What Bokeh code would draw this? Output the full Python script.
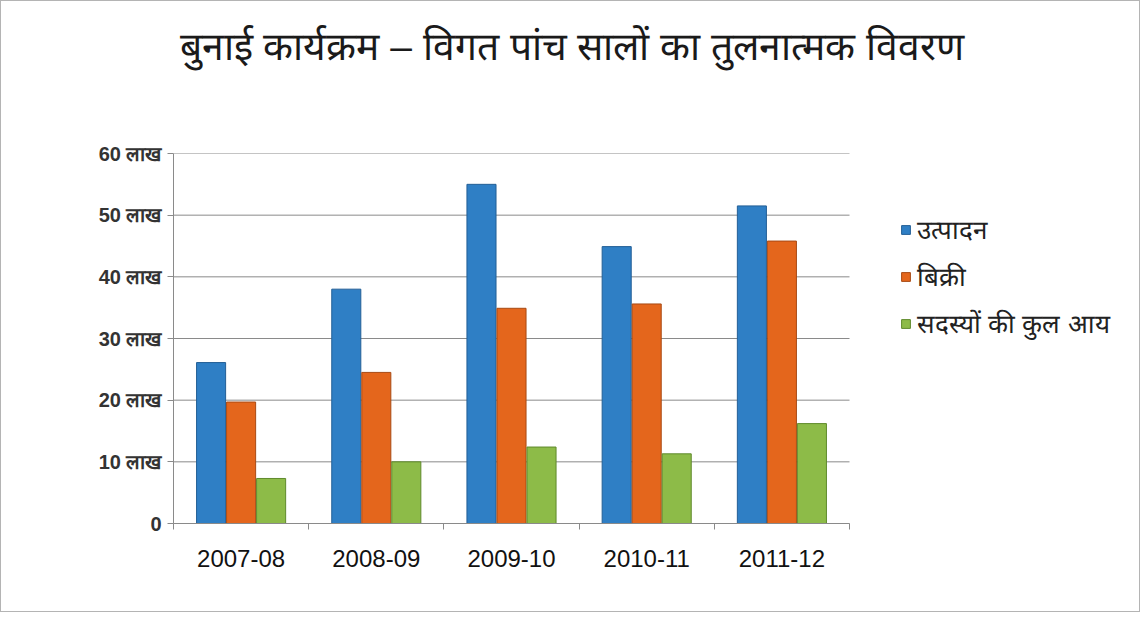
import numpy as np
from bokeh.plotting import figure
from bokeh.models import ColumnDataSource, FixedTicker, Legend, LegendItem, LinearAxis, Range1d, Title
from bokeh.embed import file_html
from bokeh.resources import INLINE

years = ["2007-08", "2008-09", "2009-10", "2010-11", "2011-12"]
production = [26.1, 38.0, 55.0, 44.9, 51.5]
sales = [19.7, 24.5, 34.9, 35.6, 45.8]
income = [7.3, 10.0, 12.4, 11.3, 16.2]
y_ticks = [0, 10, 20, 30, 40, 50, 60]
y_tick_labels = ["0", "10 लाख", "20 लाख", "30 लाख", "40 लाख", "50 लाख", "60 लाख"]
series_names = ["उत्पादन", "बिक्री", "सदस्यों की कुल आय"]
title_text = "बुनाई कार्यक्रम – विगत पांच सालों का तुलनात्मक विवरण"

colors = ["#2F7FC5", "#E4661C", "#8DBB48"]
edge = ["#235f96", "#a84a14", "#5f8a2c"]

n = len(years)
centers = np.arange(n) + 0.5

# plot area: category part is 676 px wide, the remaining room on the right holds the legend
W, LEFT = 1140, 172
cat_px = 676
x_end = n * (W - LEFT) / cat_px

p = figure(width=W, height=612, output_backend="svg", toolbar_location=None,
           x_range=Range1d(0, x_end), y_range=Range1d(0, 60),
           min_border_left=LEFT, min_border_right=0, min_border_top=152, min_border_bottom=90,
           background_fill_color="white", border_fill_color="white")
p.styles = {"border": "1px solid #b4b4b4"}
p.outline_line_color = None

# spacer between title and plot area
spacer = Title(text=" ", text_font_size="10px", standoff=68)
p.add_layout(spacer, "above")

# title
p.title.text = title_text
p.title.align = "left"
p.title.offset = 6
p.title.text_font_size = "39px"
p.title.text_font_style = "normal"
p.title.text_color = "#1a1a1a"
p.title.standoff = 10

# horizontal grid lines limited to the category area
p.xgrid.visible = False
p.ygrid.visible = False
p.segment(x0=[0] * len(y_ticks), x1=[n] * len(y_ticks), y0=y_ticks, y1=y_ticks,
          line_color="#8a8a8a", line_width=1)

width = 0.215
offsets = [-0.222, 0.0, 0.222]
renderers = []
for vals, off, c, e in zip([production, sales, income], offsets, colors, edge):
    src = ColumnDataSource(dict(x=centers + off, top=vals))
    r = p.vbar(x="x", top="top", width=width, source=src, fill_color=c, line_color=e, line_width=1)
    renderers.append(r)

# axes
p.xaxis.visible = False
p.yaxis.visible = False

yax = LinearAxis(ticker=FixedTicker(ticks=y_ticks),
                 major_label_overrides={t: l for t, l in zip(y_ticks, y_tick_labels)})
yax.axis_line_color = "#8a8a8a"
yax.major_tick_line_color = "#8a8a8a"
yax.major_tick_out = 6
yax.major_tick_in = 0
yax.minor_tick_line_color = None
yax.major_label_text_font_size = "20px"
yax.major_label_text_font_style = "bold"
yax.major_label_text_color = "#333333"
yax.major_label_text_font = "Liberation Sans"
yax.major_label_standoff = 6
p.add_layout(yax, "left")

sep_ticks = list(range(n + 1))
sep = LinearAxis(ticker=FixedTicker(ticks=sep_ticks), bounds=(0, n),
                 major_label_overrides={t: "" for t in sep_ticks})
sep.axis_line_color = "#8a8a8a"
sep.major_tick_line_color = "#8a8a8a"
sep.major_tick_out = 6
sep.major_tick_in = 0
sep.minor_tick_line_color = None
sep.major_label_text_font_size = "2px"
sep.major_label_standoff = 0
p.add_layout(sep, "below")

lab = LinearAxis(ticker=FixedTicker(ticks=list(centers)),
                 major_label_overrides={float(c): y for c, y in zip(centers, years)})
lab.axis_line_color = None
lab.major_tick_line_color = None
lab.minor_tick_line_color = None
lab.major_label_text_font = "Liberation Sans"
lab.major_label_text_font_size = "24px"
lab.major_label_text_color = "#111111"
lab.major_label_standoff = 14
p.add_layout(lab, "below")

legend = Legend(items=[LegendItem(label=nm, renderers=[r]) for nm, r in zip(series_names, renderers)],
                location=(727, 182))
legend.border_line_color = None
legend.background_fill_alpha = 0
legend.glyph_width = 11
legend.glyph_height = 11
legend.label_text_font_size = "26px"
legend.label_text_color = "#222222"
legend.spacing = 11
legend.label_standoff = 6
legend.margin = 0
legend.padding = 6
p.add_layout(legend, "center")

open("out.html", "w").write(file_html(p, INLINE))
